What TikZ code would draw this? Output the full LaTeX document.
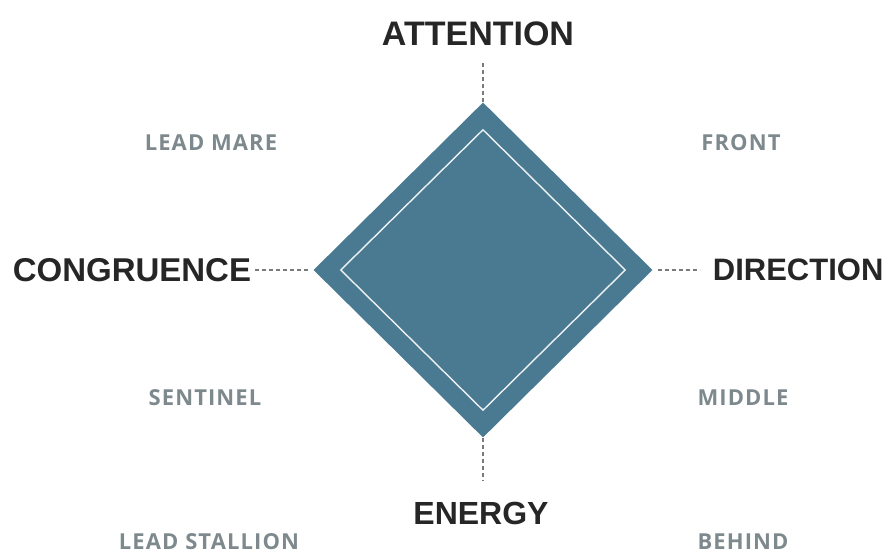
\documentclass[tikz,border=0pt]{standalone}
\usepackage{fontspec}
\setmainfont{Liberation Sans}
\newfontfamily\labelfont[LetterSpace=5]{Open Sans}
\usetikzlibrary{positioning}
\usetikzlibrary{shapes.geometric}
\definecolor{diamondblue}{HTML}{4A7A91}
\definecolor{labelgray}{HTML}{7E898E}
\definecolor{dashgray}{HTML}{7A7A7A}
\tikzset{
	axislabel/.style={font=\fontsize{33}{36}\selectfont\bfseries, text=black!85, inner sep=0pt},
	rolelabel/.style={font=\labelfont\fontsize{22}{24}\selectfont\bfseries, text=labelgray, inner sep=0pt},
	axisdash/.style={draw=dashgray, line width=1.8pt, dash pattern=on 4pt off 3pt}
}

\begin{document}
\begin{tikzpicture}[x=1pt, y=1pt]
	\useasboundingbox (0,0) rectangle (888,556);
	\node at (483,286) (outer) [diamond, fill=diamondblue, inner sep=0pt, minimum width=339pt, minimum height=335pt] {};
	\node at (483,286) (inner) [diamond, draw=white!90!diamondblue, line width=1.4pt, inner sep=0pt, minimum width=285pt, minimum height=281pt] {};
	\node at (478,522) (attention) [axislabel, font=\fontsize{34}{36}\selectfont\bfseries] {ATTENTION};
	\node at (481,43) (energy) [axislabel, font=\fontsize{32}{36}\selectfont\bfseries] {ENERGY};
	\node (congruence) [axislabel, left=62pt of outer.west] {CONGRUENCE};
	\node (direction) [axislabel, font=\fontsize{31}{36}\selectfont\bfseries, right=60pt of outer.east] {DIRECTION};
	\draw[axisdash] (outer.north) -- ([yshift=-17pt]outer.north |- attention.south);
	\draw[axisdash] (outer.south) -- ([yshift=20pt]outer.south |- energy.north);
	\draw[axisdash] ([xshift=-5pt]outer.west) -- ([xshift=2pt]congruence.east);
	\draw[axisdash] ([xshift=5pt]outer.east) -- ([xshift=-13pt]direction.west);
	\node at (211,413) (leadmare) [rolelabel] {LEAD MARE};
	\node at (741,413) (front) [rolelabel] {FRONT};
	\node at (205,158) (sentinel) [rolelabel] {SENTINEL};
	\node at (743,158) (middle) [rolelabel] {MIDDLE};
	\node at (209,14) (leadstallion) [rolelabel] {LEAD STALLION};
	\node at (743,14) (behind) [rolelabel] {BEHIND};
\end{tikzpicture}
\end{document}
